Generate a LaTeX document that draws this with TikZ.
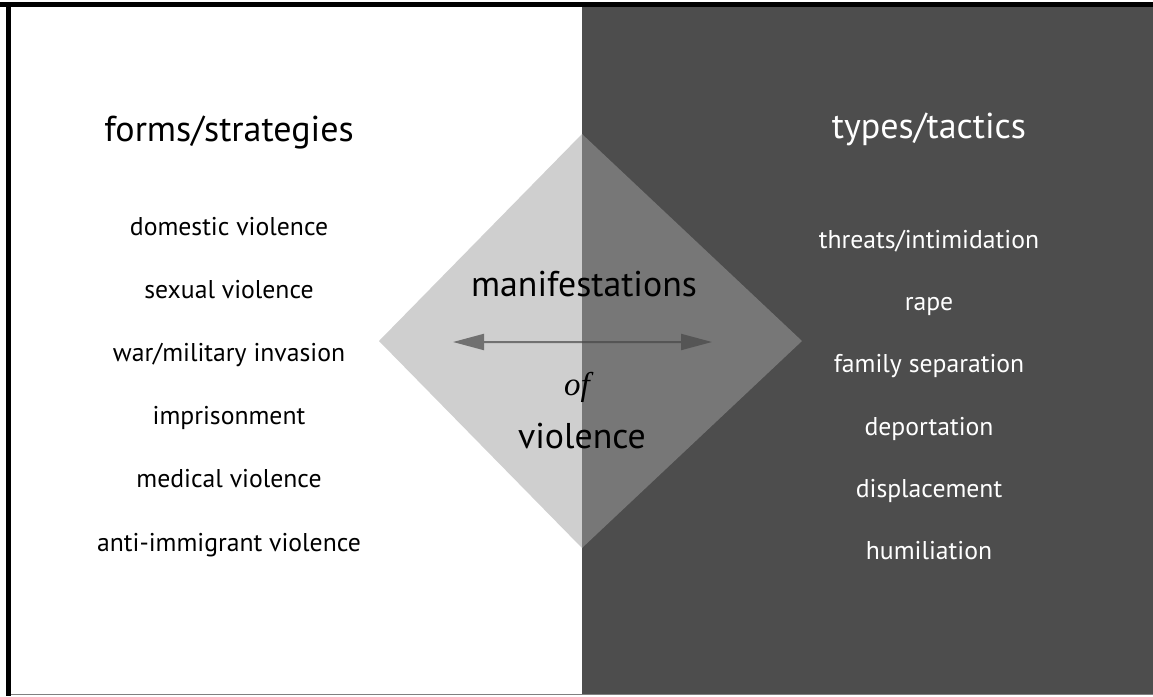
\documentclass[tikz,border=0pt]{standalone}
\usepackage[dvipsnames]{xcolor}
\usepackage{fontspec}
\setmainfont{PT Sans}
\newfontfamily\ofserif{Liberation Serif}
\usetikzlibrary{arrows.meta,positioning}

\definecolor{panelgray}{HTML}{4D4D4D}
\definecolor{lightside}{HTML}{CFCFCF}
\definecolor{darkside}{HTML}{777777}
\definecolor{arrowgray}{HTML}{454545}

\begin{document}
\begin{tikzpicture}[x=1pt,y=-1pt,node distance=63.1pt,
    head node/.style={font=\fontsize{36}{42}\selectfont,text height=0.72em,text depth=0.22em,inner sep=0pt},
    item node/.style={font=\fontsize{25.7}{30}\selectfont,text height=0.72em,text depth=0.22em,inner sep=0pt},
    mid node/.style={font=\fontsize{35.8}{42}\selectfont,text height=0.72em,text depth=0.22em,inner sep=0pt},
    spread arrow/.style={{Triangle[length=31pt,width=16pt]}-{Triangle[length=31pt,width=16pt]},line width=2pt,draw=arrowgray,fill=arrowgray}]
    \useasboundingbox (0,0) rectangle (1153,696);
    \fill[white] (0,0) rectangle (1153,696);

    % right panel and frame
    \fill[panelgray] (582,7) rectangle (1153,694);
    \draw[line width=5pt] (0,4.5) -- (1153,4.5);
    \draw[line width=5pt] (8.5,2) -- (8.5,696);
    \draw[line width=1.5pt,gray] (11,694.5) -- (1153,694.5);

    % the diamond, split down the middle
    \coordinate (top) at (582,134);
    \coordinate (bottom) at (582,548);
    \coordinate (left) at (379,341);
    \coordinate (right) at (802,341);
    \fill[lightside] (top) -- (left) -- (bottom) -- cycle;
    \fill[darkside] (top) -- (right) -- (bottom) -- cycle;

    \coordinate (west end) at (453,342);
    \coordinate (east end) at (712,342);
    \begin{scope}[transparency group,opacity=0.68]
    \draw[spread arrow] (west end) -- (east end);
    \end{scope}

    \node[mid node] (manif) at (584,294) {manifestations};
    \node[font=\ofserif\itshape\fontsize{33}{40}\selectfont,inner sep=0pt] (of) at (577,387) {of};
    \node[mid node] (viol) at (582,446) {violence};

    % left column
    \node[head node] (forms) at (229,139) {forms/strategies};
    \node[item node] (1) at (229,233) {domestic violence};
    \node[item node] (2) [below of=1] {sexual violence};
    \node[item node] (3) [below of=2] {war/military invasion};
    \node[item node] (4) [below of=3] {imprisonment};
    \node[item node] (5) [below of=4] {medical violence};
    \node[item node] (6) [below of=5] {anti-immigrant violence};

    % right column
    \node[head node,text=white] (types) at (929,136) {types/tactics};
    \begin{scope}[node distance=62.2pt]
    \node[item node,text=white] (7) at (929,246) {threats/intimidation};
    \node[item node,text=white] (8) [below of=7] {rape};
    \node[item node,text=white] (9) [below of=8] {family separation};
    \node[item node,text=white] (10) [below of=9] {deportation};
    \node[item node,text=white] (11) [below of=10] {displacement};
    \node[item node,text=white] (12) [below of=11] {humiliation};
    \end{scope}
\end{tikzpicture}
\end{document}
